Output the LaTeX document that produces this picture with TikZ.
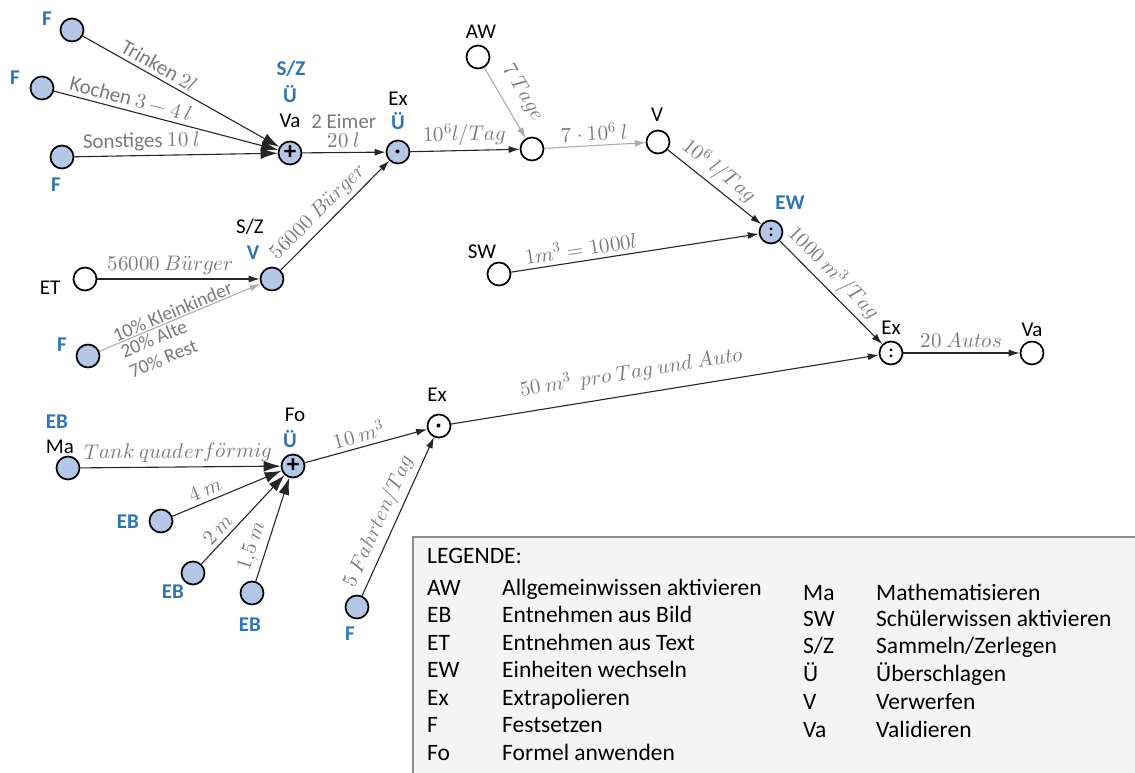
\documentclass[tikz,border=0pt]{standalone}
\usepackage{fontspec}
\usepackage{unicode-math}
\setmathfont{Latin Modern Math}
\setsansfont{Carlito}
\usetikzlibrary{arrows.meta}
\definecolor{nodeblue}{HTML}{B4C7E7}
\definecolor{txtblue}{HTML}{2E75B6}
\definecolor{lgray}{HTML}{ADADAD}
\definecolor{tgray}{HTML}{7A7A7A}
\definecolor{dline}{HTML}{262626}
\definecolor{legfill}{HTML}{F4F4F4}
\definecolor{legline}{HTML}{8C8C8C}
\begin{document}
\begin{tikzpicture}[x=1pt,y=-1pt,
  pt/.style={circle, draw=black, line width=1.7pt, minimum size=23pt, inner sep=0pt, font=\sffamily\bfseries\fontsize{18}{18}\selectfont},
  bpt/.style={pt, fill=nodeblue},
  wpt/.style={pt, fill=white},
  nl/.style={font=\sffamily\fontsize{21}{22}\selectfont, inner sep=0pt},
  bl/.style={font=\sffamily\bfseries\fontsize{21}{22}\selectfont, text=txtblue, inner sep=0pt},
  edge/.style={draw=dline, line width=1.1pt, -{Latex[length=11pt,width=7pt]}},
  bigedge/.style={draw=dline, line width=1.1pt, -{Latex[length=17pt,width=11pt]}},
  gedge/.style={draw=lgray, line width=1.1pt, -{Latex[length=11pt,width=7pt]}},
  el/.style={sloped, above=3pt, text=tgray, font=\sffamily\fontsize{21}{23}\selectfont, inner sep=1pt},
  leg/.style={font=\sffamily\fontsize{23.5}{26}\selectfont, anchor=base west, inner sep=0pt},
  plus/.style={font=\sffamily\bfseries\fontsize{25}{25}\selectfont},
]
\useasboundingbox (0,0) rectangle (1135,773);

% legend box
\draw[draw=legline, fill=legfill, line width=1.3pt] (413,537) rectangle (1160,800);

% nodes
\node[bpt] (F1) at (72,30) {};
\node[bpt] (F2) at (42,88) {};
\node[bpt] (F3) at (62,157) {};
\node[bpt, plus] (P1) at (290,153) {+};
\node[bpt] (D1) at (398,152) {\fontsize{10}{10}\selectfont$\bullet$};
\node[wpt] (W1) at (532,149) {};
\node[wpt] (AW) at (478,57) {};
\node[wpt] (V) at (658,142) {};
\node[bpt] (EW) at (771,232) {:};
\node[wpt] (SW) at (499,274) {};
\node[wpt] (X2) at (891,353) {:};
\node[wpt] (VA) at (1032,353) {};
\node[wpt] (ET) at (85,279) {};
\node[bpt] (SZ) at (272,279) {};
\node[bpt] (F4) at (88,356) {};
\node[bpt] (MA) at (68,468) {};
\node[bpt, plus] (P2) at (293,466) {+};
\node[wpt] (X3) at (439,426) {\fontsize{10}{10}\selectfont$\bullet$};
\node[bpt] (EB1) at (161,521) {};
\node[bpt] (EB2) at (193,573) {};
\node[bpt] (EB3) at (252,593) {};
\node[bpt] (F5) at (357,607) {};

% node labels
\node[bl] (lF1) at (47,19) {F};
\node[bl] (lF2) at (15,78) {F};
\node[bl] (lF3) at (56,185) {F};
\node[bl] (lP1a) at (291,69) {S/Z};
\node[bl] (lP1b) at (290,94) {Ü};
\node[nl] (lP1c) at (290,121) {Va};
\node[nl] (lD1a) at (398,99) {Ex};
\node[bl] (lD1b) at (398,121) {Ü};
\node[nl] (lAW) at (481,32) {AW};
\node[nl] (lV) at (657,115) {V};
\node[bl] (lEW) at (790,203) {EW};
\node[nl] (lSW) at (482,252) {SW};
\node[nl] (lX2) at (891,328) {Ex};
\node[nl] (lVA) at (1032,330) {Va};
\node[nl] (lET) at (50,288) {ET};
\node[nl] (lSZa) at (250,227) {S/Z};
\node[bl] (lSZb) at (253,253) {V};
\node[bl] (lF4) at (62,345) {F};
\node[bl] (lMAa) at (57,422) {EB};
\node[nl] (lMAb) at (60,447) {Ma};
\node[nl] (lP2a) at (295,415) {Fo};
\node[bl] (lP2b) at (290,439) {Ü};
\node[nl] (lX3) at (437,395) {Ex};
\node[bl] (lEB1) at (128,522) {EB};
\node[bl] (lEB2) at (173,592) {EB};
\node[bl] (lEB3) at (250,625) {EB};
\node[bl] (lF5) at (350,634) {F};

% edges
\draw[bigedge] (F1) -- (P1) node[el, pos=0.36]{Trinken $2l$};
\draw[bigedge] (F2) -- (P1) node[el, pos=0.33]{Kochen $3-4\ l$};
\draw[bigedge] (F3) -- (P1) node[el, pos=0.33]{Sonstiges $10\ l$};
\draw[edge] (P1) -- (D1) node[el, pos=0.5, align=center]{2 Eimer\\[-4pt]$20\ l$};
\draw[edge] (D1) -- (W1) node[el, pos=0.5]{$10^6l/Tag$};
\draw[gedge] (AW) -- (W1) node[el, pos=0.5, above=7pt]{$7\ Tage$};
\draw[gedge] (W1) -- (V) node[el, pos=0.5]{$7\cdot 10^6\ l$};
\draw[edge] (V) -- (EW) node[el, pos=0.45]{$10^6\ l/Tag$};
\draw[edge] (SW) -- (EW) node[el, pos=0.29]{$1m^3=1000l$};
\draw[edge] (EW) -- (X2) node[el, pos=0.42]{$1000\ m^3/Tag$};
\draw[edge] (X2) -- (VA) node[el, pos=0.5]{$20\ Autos$};
\draw[edge] (X3) -- (X2) node[el, pos=0.43, above=7pt]{$50\ m^3\ \ pro\ Tag\ und\ Auto$};
\draw[edge] (ET) -- (SZ) node[el, pos=0.45]{$56000\ B\ddot{u}rger$};
\draw[gedge] (F4) -- (SZ)
  node[sloped, anchor=south west, text=tgray, font=\sffamily\fontsize{19.5}{22}\selectfont, inner sep=1pt, pos=0.1]{10\% Kleinkinder}
  node[sloped, anchor=north west, text=tgray, font=\sffamily\fontsize{19.5}{22}\selectfont, inner sep=2pt, align=left, pos=0.1]{20\% Alte\\70\% Rest};
\draw[edge] (SZ) -- (D1) node[el, pos=0.44]{$56000\ B\ddot{u}rger$};
\draw[bigedge] (MA) -- (P2) node[el, pos=0.49]{$Tank\ quaderf\ddot{o}rmig$};
\draw[bigedge] (EB1) -- (P2) node[el, pos=0.34]{$4\ m$};
\draw[bigedge] (EB2) -- (P2) node[el, pos=0.30]{$2\ m$};
\draw[bigedge] (EB3) -- (P2) node[el, pos=0.30]{$1{,}5\ m$};
\draw[edge] (P2) -- (X3) node[el, pos=0.47]{$10\ m^3$};
\draw[edge] (F5) -- (X3) node[el, pos=0.43]{$5\ Fahrten/Tag$};

% legend
\node[leg] (lg0) at (427,563) {LEGENDE:};
\node[leg] (lg1a) at (427,595) {AW};  \node[leg] (lg1b) at (502,595) {Allgemeinwissen aktivieren};
\node[leg] (lg2a) at (427,622) {EB};  \node[leg] (lg2b) at (502,622) {Entnehmen aus Bild};
\node[leg] (lg3a) at (427,650) {ET};  \node[leg] (lg3b) at (502,650) {Entnehmen aus Text};
\node[leg] (lg4a) at (427,677) {EW};  \node[leg] (lg4b) at (502,677) {Einheiten wechseln};
\node[leg] (lg5a) at (427,705) {Ex};  \node[leg] (lg5b) at (502,705) {Extrapolieren};
\node[leg] (lg6a) at (427,732) {F};   \node[leg] (lg6b) at (502,732) {Festsetzen};
\node[leg] (lg7a) at (427,760) {Fo};  \node[leg] (lg7b) at (502,760) {Formel anwenden};
\node[leg] (lr1a) at (803,600) {Ma};  \node[leg] (lr1b) at (876,600) {Mathematisieren};
\node[leg] (lr2a) at (803,626) {SW};  \node[leg] (lr2b) at (876,626) {Schülerwissen aktivieren};
\node[leg] (lr3a) at (803,653) {S/Z}; \node[leg] (lr3b) at (876,653) {Sammeln/Zerlegen};
\node[leg] (lr4a) at (803,681) {Ü};   \node[leg] (lr4b) at (876,681) {Überschlagen};
\node[leg] (lr5a) at (803,709) {V};   \node[leg] (lr5b) at (876,709) {Verwerfen};
\node[leg] (lr6a) at (803,737) {Va};  \node[leg] (lr6b) at (876,737) {Validieren};
\end{tikzpicture}
\end{document}
